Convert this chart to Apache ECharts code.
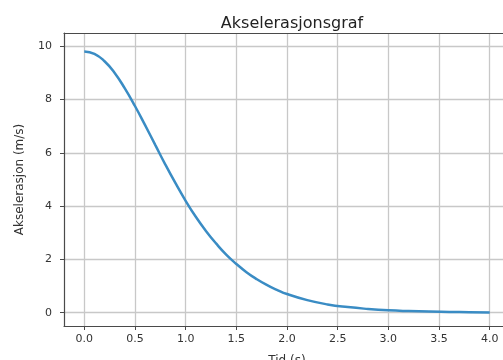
<!DOCTYPE html>
<html>
<head>
<meta charset="utf-8">
<script src="https://cdn.jsdelivr.net/npm/echarts@6/dist/echarts.min.js"></script>
<style>
  html, body { margin: 0; padding: 0; background: #fff; }
  #chart { width: 503px; height: 360px; }
</style>
</head>
<body>
<div id="chart"></div>
<script>
// tid (s) og akselerasjon (m/s^2), lest av grafen
const tid = [0.0, 0.1, 0.2, 0.3, 0.4, 0.5, 0.6, 0.7, 0.8, 0.9, 1.0, 1.1, 1.2, 1.3, 1.4, 1.5, 1.6, 1.7, 1.8, 1.9, 2.0,
             2.2, 2.4, 2.6, 2.8, 3.0, 3.2, 3.4, 3.6, 3.8, 4.0];
const akselerasjon = [9.81, 9.72, 9.44, 9.0, 8.42, 7.76, 7.04, 6.3, 5.56, 4.86, 4.2, 3.6, 3.07, 2.6, 2.18, 1.83, 1.52, 1.26, 1.04, 0.86, 0.7,
                      0.47, 0.31, 0.21, 0.14, 0.09, 0.06, 0.04, 0.03, 0.02, 0.01];
const xTicks = [0.0, 0.5, 1.0, 1.5, 2.0, 2.5, 3.0, 3.5, 4.0];
const yTicks = [0, 2, 4, 6, 8, 10];

const font = "DejaVu Sans";
const spine = "#4a4a4a";
const gridColor = "#c8c8c8";
const textColor = "#333";

const chart = echarts.init(document.getElementById("chart"));
chart.setOption({
    animation: false,
    backgroundColor: "#fff",
    title: {
        text: "Akselerasjonsgraf",
        left: 287,
        textAlign: "center",
        top: 11,
        textStyle: { fontFamily: font, fontSize: 16, fontWeight: "normal", color: "#222" },
    },
    // plottet går litt utenfor bildet til høyre, som i originalen
    grid: { left: 64, top: 33, width: 446, height: 293, containLabel: false, outerBoundsMode: "none" },
    xAxis: [
        {
            type: "value",
            min: -0.2,
            max: 4.2,
            name: "Tid (s)",
            nameLocation: "middle",
            nameGap: 29,
            nameTextStyle: { fontFamily: font, fontSize: 12, color: textColor },
            axisLine: { show: true, onZero: false, lineStyle: { color: spine, width: 1.2 } },
            axisTick: { show: true, length: 4, customValues: xTicks, lineStyle: { color: spine } },
            axisLabel: {
                customValues: xTicks,
                margin: 8,
                fontFamily: font, fontSize: 11, color: textColor,
                formatter: (v) => v.toFixed(1),
            },
            splitLine: { show: true, lineStyle: { color: gridColor, width: 1.3 } },
        },
        {
            type: "value",
            position: "top",
            min: -0.2,
            max: 4.2,
            axisLine: { show: true, onZero: false, lineStyle: { color: spine, width: 1.2 } },
            axisTick: { show: false },
            axisLabel: { show: false },
            splitLine: { show: false },
        },
    ],
    yAxis: {
        type: "value",
        min: -0.5,
        max: 10.5,
        name: "Akselerasjon (m/s)",
        nameLocation: "middle",
        nameGap: 38,
        nameTextStyle: { fontFamily: font, fontSize: 12, color: textColor },
        axisLine: { show: true, onZero: false, lineStyle: { color: spine, width: 1.2 } },
        axisTick: { show: true, length: 4, customValues: yTicks, lineStyle: { color: spine } },
        axisLabel: { customValues: yTicks, margin: 12, fontFamily: font, fontSize: 11, color: textColor },
        splitLine: { show: true, lineStyle: { color: gridColor, width: 1.3 } },
    },
    series: [
        {
            type: "line",
            data: tid.map((t, i) => [t, akselerasjon[i]]),
            smooth: true,
            showSymbol: false,
            lineStyle: { color: "#3a8cc4", width: 2.5 },
        },
    ],
});
</script>
</body>
</html>
